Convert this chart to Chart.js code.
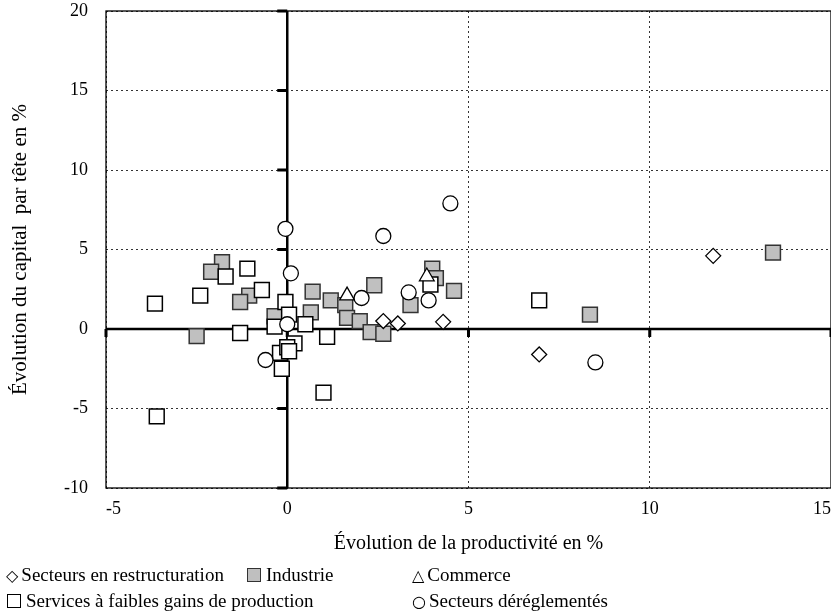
<!DOCTYPE html>
<html>
<head>
<meta charset="utf-8">
<script src="https://cdn.jsdelivr.net/npm/chart.js@4"></script>
<style>
  body { margin: 0; background: #fff; }
  #wrap { position: relative; width: 831px; height: 616px; overflow: hidden; }
  .leg { position: absolute; font-family: "Liberation Serif", serif; font-size: 19px; color: #000; white-space: nowrap; line-height: 22px; }
  .sym { font-family: "DejaVu Sans", sans-serif; font-size: 16px; margin-right: 3px; }
  .box { display: inline-block; width: 12px; height: 12px; border: 1px solid #000; background: #fff; margin-right: 5px; vertical-align: -1px; }
  .box.gray { background: #bfbfbf; border-color: #333; }
</style>
</head>
<body>
<div id="wrap">
  <canvas id="scatterChart" width="831" height="616"></canvas>
  <div class="leg" style="left:6px; top:564px;"><span class="sym">◇</span>Secteurs en restructuration</div>
  <div class="leg" style="left:247px; top:564px;"><span class="box gray"></span>Industrie</div>
  <div class="leg" style="left:412px; top:564px;"><span class="sym">△</span>Commerce</div>
  <div class="leg" style="left:7px; top:590px;"><span class="box"></span>Services à faibles gains de production</div>
  <div class="leg" style="left:412px; top:590px;"><span class="sym">○</span>Secteurs déréglementés</div>
</div>
<script>
// Data: [productivité, capital par tête] en %
const restructuration = [
  [11.75, 4.6], [6.95, -1.6], [2.65, 0.5], [3.05, 0.35], [4.3, 0.45]
];
const industrie = [
  [13.4, 4.8], [8.35, 0.9], [4.0, 3.8], [4.1, 3.2], [4.6, 2.4], [2.4, 2.75],
  [0.7, 2.35], [1.2, 1.8], [3.4, 1.5], [0.65, 1.05], [1.6, 1.5], [1.65, 0.7],
  [2.0, 0.5], [2.3, -0.2], [2.65, -0.3], [-1.8, 4.2], [-2.1, 3.6], [-1.05, 2.1],
  [-1.3, 1.7], [-2.5, -0.45], [-0.35, 0.8]
];
const commerce = [
  [1.65, 2.1], [3.85, 3.3]
];
const services = [
  [6.95, 1.8], [3.95, 2.8], [1.1, -0.5], [0.5, 0.3], [-0.05, 1.7], [0.05, 0.9],
  [0.2, -0.9], [-1.7, 3.3], [-1.1, 3.8], [-2.4, 2.1], [-3.65, 1.6], [-0.7, 2.45],
  [-1.3, -0.25], [-3.6, -5.5], [-0.35, 0.15], [-0.2, -1.5], [-0.15, -2.5],
  [1.0, -4.0], [0.0, -1.15], [0.05, -1.4]
];
const dereglementes = [
  [4.5, 7.9], [2.65, 5.85], [-0.05, 6.3], [0.1, 3.5], [2.05, 1.95], [3.35, 2.3],
  [3.9, 1.8], [0.0, 0.3], [-0.6, -1.95], [8.5, -2.1]
];

const xTicks = [-5, 0, 5, 10, 15];
const yTicks = [-10, -5, 0, 5, 10, 15, 20];

function toPoints(arr) {
  return arr.map(p => ({ x: p[0], y: p[1] }));
}

// axes en croix a zero + cadre
const zeroLines = {
  id: "zeroLines",
  beforeDatasetsDraw(chart) {
    const ctx = chart.ctx;
    const a = chart.chartArea;
    const x = chart.scales.x, y = chart.scales.y;
    const x0 = x.getPixelForValue(0), y0 = y.getPixelForValue(0);
    ctx.save();
    ctx.strokeStyle = "#000";
    ctx.lineWidth = 1.3;
    ctx.strokeRect(a.left, a.top, a.right - a.left, a.bottom - a.top);
    ctx.lineWidth = 2.5;
    ctx.beginPath();
    ctx.moveTo(x0, a.top); ctx.lineTo(x0, a.bottom);
    ctx.moveTo(a.left, y0); ctx.lineTo(a.right, y0);
    ctx.stroke();
    ctx.lineWidth = 3;
    ctx.beginPath();
    yTicks.forEach(v => {
      const py = y.getPixelForValue(v);
      ctx.moveTo(x0 - 10, py); ctx.lineTo(x0, py);
    });
    xTicks.forEach(v => {
      const px = x.getPixelForValue(v);
      ctx.moveTo(px, y0); ctx.lineTo(px, y0 + 8);
    });
    ctx.stroke();
    ctx.restore();
  }
};

const ctx = document.getElementById("scatterChart").getContext("2d");
new Chart(ctx, {
  type: "scatter",
  data: {
    datasets: [
      {
        label: "Secteurs déréglementés",
        data: toPoints(dereglementes),
        pointStyle: "circle",
        pointRadius: 7.5,
        backgroundColor: "#fff",
        borderColor: "#000",
        borderWidth: 1.3
      },
      {
        label: "Secteurs en restructuration",
        data: toPoints(restructuration),
        pointStyle: "rectRot",
        pointRadius: 7.5,
        backgroundColor: "#fff",
        borderColor: "#000",
        borderWidth: 1.3
      },
      {
        label: "Commerce",
        data: toPoints(commerce),
        pointStyle: "triangle",
        pointRadius: 8.5,
        backgroundColor: "#fff",
        borderColor: "#000",
        borderWidth: 1.3
      },
      {
        label: "Services à faibles gains de production",
        data: toPoints(services),
        pointStyle: "rect",
        pointRadius: 10.5,
        backgroundColor: "#fff",
        borderColor: "#000",
        borderWidth: 1.5
      },
      {
        label: "Industrie",
        data: toPoints(industrie),
        pointStyle: "rect",
        pointRadius: 10.5,
        backgroundColor: "#c0c0c0",
        borderColor: "#333",
        borderWidth: 1.5
      }
    ]
  },
  options: {
    responsive: false,
    animation: false,
    events: [],
    layout: { autoPadding: false, padding: { left: 0, right: 0, top: 11, bottom: 48 } },
    plugins: {
      legend: { display: false },
      tooltip: { enabled: false }
    },
    scales: {
      x: {
        type: "linear",
        min: -5,
        max: 15,
        afterFit: s => { s.height = 80; s.paddingLeft = 0; s.paddingRight = 0; },
        afterBuildTicks: s => { s.ticks = xTicks.map(v => ({ value: v })); },
        grid: { color: "#333", lineWidth: 1, drawTicks: false },
        border: { display: false, dash: [2, 3] },
        ticks: {
          padding: 10,
          align: "inner",
          color: "#000",
          font: { family: "Liberation Serif", size: 18 }
        },
        title: {
          display: true,
          text: "Évolution de la productivité en %",
          color: "#000",
          font: { family: "Liberation Serif", size: 20 },
          padding: { top: 0, bottom: 12 }
        }
      },
      y: {
        type: "linear",
        min: -10,
        max: 20,
        afterFit: s => { s.width = 106; s.paddingTop = 0; s.paddingBottom = 0; },
        afterBuildTicks: s => { s.ticks = yTicks.map(v => ({ value: v })); },
        grid: { color: "#333", lineWidth: 1, drawTicks: false },
        border: { display: false, dash: [2, 3] },
        ticks: {
          padding: 18,
          color: "#000",
          font: { family: "Liberation Serif", size: 18 }
        },
        title: {
          display: true,
          text: "Évolution du capital  par tête en %",
          color: "#000",
          font: { family: "Liberation Serif", size: 21 },
          padding: { top: 8, bottom: 0 }
        }
      }
    }
  },
  plugins: [zeroLines]
});
</script>
</body>
</html>
